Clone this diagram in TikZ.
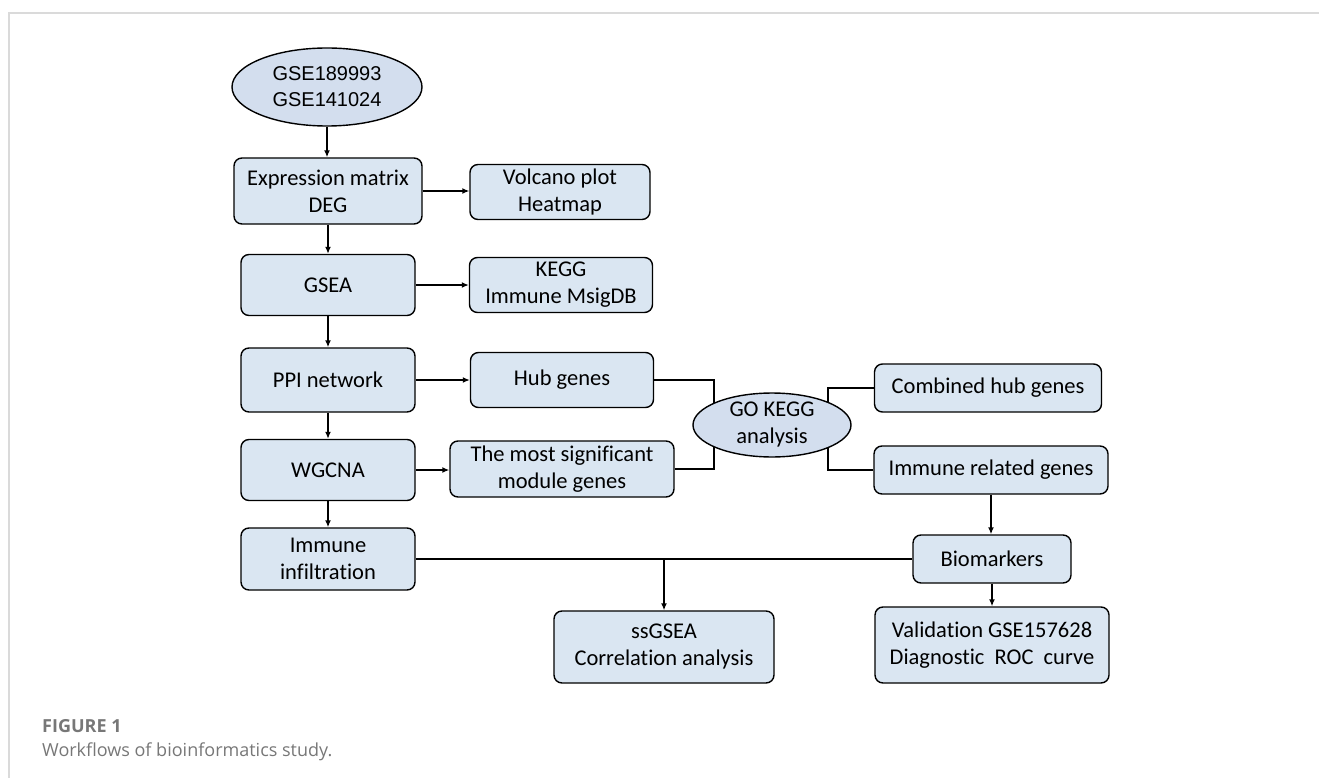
\documentclass[tikz,border=0pt]{standalone}
\usepackage{fontspec}
\setmainfont{Carlito}[Ligatures=NoCommon]
\newfontfamily\gsefont{Liberation Sans}
\newfontfamily\capfont{Open Sans}[Ligatures=NoCommon]
\usetikzlibrary{shapes.geometric,arrows.meta}
\pgfdeclarelayer{background}
\pgfsetlayers{background,main}
\definecolor{boxblue}{HTML}{DAE6F2}
\definecolor{ellblue}{HTML}{D3DEEE}
\definecolor{framegray}{HTML}{DADADA}
\definecolor{capgray}{HTML}{777777}
\tikzset{
  box/.style={draw=black, fill=boxblue, rounded corners=8pt, line width=1.4pt, align=center,
    inner sep=0pt, font=\fontsize{22.5}{27}\selectfont},
  ell/.style={draw=black, fill=ellblue, ellipse, line width=1.4pt, align=center, inner sep=0pt},
  conn/.style={line width=1.4pt, draw=black},
  arr/.style={conn, -{Latex[length=7pt,width=6pt]}},
}
\begin{document}
\begin{tikzpicture}[x=1pt,y=-1pt]
\useasboundingbox (0,0) rectangle (1319,778);
\draw[framegray, line width=1.5pt] (9,778) -- (9,13) -- (1319,13);

\node[ell, minimum width=190pt, minimum height=78pt, font=\gsefont\fontsize{20}{26}\selectfont] (gse) at (327,87) {GSE189993\\GSE141024};
\node[box, minimum width=188pt, minimum height=66pt] (expr) at (328,191) {Expression matrix\\DEG};
\node[box, minimum width=180pt, minimum height=55pt] (volc) at (560,192) {Volcano plot\\Heatmap};
\node[box, minimum width=174pt, minimum height=61pt] (gsea) at (328,285) {GSEA};
\node[box, minimum width=183pt, minimum height=55pt] (kegg) at (561,285) {KEGG\\Immune MsigDB};
\node[box, minimum width=174pt, minimum height=64pt] (ppi) at (328,380) {PPI network};
\node[box, minimum width=183pt, minimum height=55pt] (hub) at (562,380) {Hub genes};
\node[box, minimum width=174pt, minimum height=61pt] (wgcna) at (328,470) {WGCNA};
\node[box, minimum width=224pt, minimum height=56pt] (most) at (562,469) {The most significant\\module genes};
\node[box, minimum width=174pt, minimum height=62pt] (inf) at (328,559) {Immune\\infiltration};
\node[box, minimum width=220pt, minimum height=72pt] (ss) at (664,647) {ssGSEA\\Correlation analysis};
\node[box, minimum width=158pt, minimum height=48pt] (bio) at (992,559) {Biomarkers};
\node[box, minimum width=234pt, minimum height=76pt] (val) at (992,645) {Validation GSE157628\\Diagnostic\ \ ROC\ \ curve};
\node[box, minimum width=227pt, minimum height=48pt] (comb) at (988,388) {Combined hub genes};
\node[box, minimum width=234pt, minimum height=48pt] (imm) at (991,470) {Immune related genes};
\node[ell, minimum width=158pt, minimum height=63pt, font=\fontsize{22.5}{27}\selectfont] (go) at (772,425) {GO KEGG\\analysis};

\coordinate (jl) at (714,425);
\coordinate (jr) at (828,425);

\draw[arr] (gse.south) -- (gse.south |- expr.north);
\draw[arr] (expr.south) -- (expr.south |- gsea.north);
\draw[arr] (gsea.south) -- (gsea.south |- ppi.north);
\draw[arr] (ppi.south) -- (ppi.south |- wgcna.north);
\draw[arr] (wgcna.south) -- (wgcna.south |- inf.north);

\draw[arr] (expr.east) -- (expr.east -| volc.west);
\draw[arr] (gsea.east) -- (gsea.east -| kegg.west);
\draw[arr] (ppi.east) -- (ppi.east -| hub.west);
\draw[arr] (wgcna.east) -- (wgcna.east -| most.west);

\begin{pgfonlayer}{background}
\draw[conn] (hub.east) -| (jl) -- (go.center);
\draw[conn] (most.east) -| (jl);
\draw[conn] (comb.west) -| (jr) -- (go.center);
\draw[conn] (imm.west) -| (jr);
\end{pgfonlayer}

\draw[arr] (imm.south) -- (imm.south |- bio.north);
\draw[arr] (bio.south) -- (bio.south |- val.north);
\draw[conn] (inf.east) -- (inf.east -| bio.west);
\draw[arr] (ss.north |- inf.east) -- (ss.north);

\node[anchor=base west, inner sep=0pt, text=capgray, font=\capfont\bfseries\fontsize{18}{22}\selectfont] (fig) at (42,732) {FIGURE 1};
\node[anchor=base west, inner sep=0pt, text=capgray, font=\capfont\fontsize{18}{22}\selectfont] (cap) at (42,756) {Workflows of bioinformatics study.};
\end{tikzpicture}
\end{document}
